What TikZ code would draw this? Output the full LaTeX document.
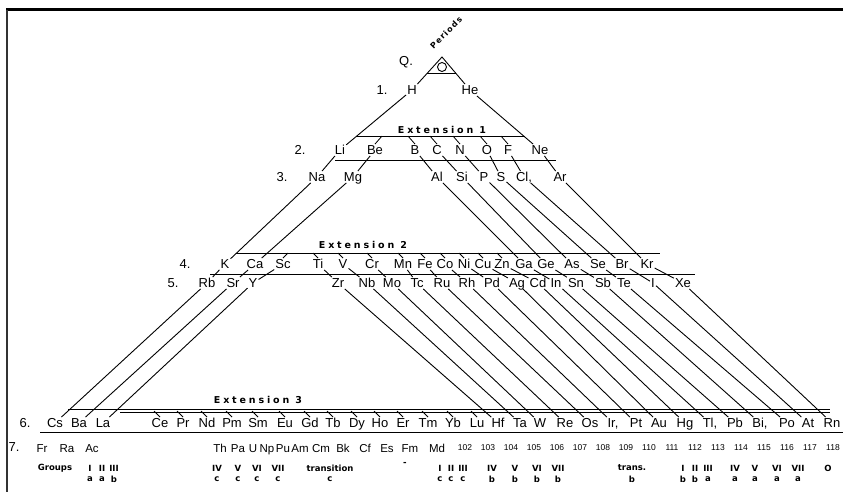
\documentclass[tikz,border=0pt]{standalone}
\usepackage{fontspec}
\setmainfont{Liberation Sans}
\newfontfamily\labfont{DejaVu Sans}
\usetikzlibrary{calc}
\newcommand{\elfont}{\fontsize{13}{13}\selectfont}
\newcommand{\extfont}{\labfont\fontsize{9.5}{9.5}\selectfont\bfseries\addfontfeature{LetterSpace=30}}
\newcommand{\grpfont}{\labfont\fontsize{8.5}{8.5}\selectfont\bfseries}
\tikzset{
  el/.style={inner sep=1pt, text height=9.5pt, text depth=0pt, font=\elfont},
  num/.style={inner sep=0pt, font=\fontsize{8.5}{8.5}\selectfont},
  ext/.style={inner sep=0pt, font=\extfont},
  grp/.style={inner sep=0pt, font=\grpfont},
  band/.style={line width=0.8pt},
  link/.style={line width=0.9pt}
}

\begin{document}
\begin{tikzpicture}[x=1pt,y=-1pt]
		%%%%% START %%%%%
		\useasboundingbox (0,0) rectangle (843,492);
		
		\draw[line width=3pt] (6,10) -- (843,10);
		\draw[line width=2pt, black!80] (7,10) -- (7,492);
		
		% apex
		\node[inner sep=0pt, font=\fontsize{13}{13}\selectfont] (q) at (406,62) {Q.};
		\node[inner sep=0pt, rotate=45, font=\labfont\fontsize{8}{8}\selectfont\bfseries\addfontfeature{LetterSpace=15}] (per) at (446,33) {Periods};
		\coordinate (apex) at (442,57);
		
		% period labels
		\node[el] (p1) at (382,90) {1.};
		\node[el] (p2) at (300,150) {2.};
		\node[el] (p3) at (282,177) {3.};
		\node[el] (p4) at (185,264) {4.};
		\node[el] (p5) at (173,283) {5.};
		\node[el] (p6) at (25,423) {6.};
		\node[el] (p7) at (14,447) {7.};
		
		% rows
		\node[el] (H) at (412,90) {H};
		\node[el] (He) at (470,90) {He};
		
		\foreach \n/\x in {Li/340,Be/375,B/415,C/437,N/460,O/487,F/508,Ne/540}
			\node[el] (\n) at (\x,150) {\n};
		\foreach \n/\x in {Na/317,Mg/353,Al/437,Si/462,P/484,S/501,Ar/560}
			\node[el] (\n) at (\x,177) {\n};
		\node[el] (Cl) at (524,177) {Cl,};
		
		\foreach \n/\x in {K/225,Ca/255,Sc/283,Ti/318,V/343,Cr/372,Mn/403,Fe/425,Co/445,Ni/464,Cu/483,Zn/502,Ga/524,Ge/546,As/572,Se/598,Br/622,Kr/647}
			\node[el] (\n) at (\x,264) {\n};
		\foreach \n/\x in {Rb/207,Sr/233,Y/253,Zr/338,Nb/367,Mo/392,Tc/417,Ru/442,Rh/467,Pd/492,Ag/517,Cd/538,In/556,Sn/576,Sb/603,Te/624,I/653,Xe/683}
			\node[el] (\n) at (\x,283) {\n};
		
		\foreach \n/\x in {Cs/55,Ba/79,La/103,Ce/160,Pr/183,Nd/207,Pm/232,Sm/258,Eu/285,Gd/310,Tb/333,Dy/357,Ho/380,Er/403,Tm/428,Yb/453,Lu/477,Hf/498,Ta/520,W/540,Re/565,Os/590,Pt/636,Au/659,Hg/685,Pb/735,Po/787,At/808,Rn/832}
			\node[el] (\n) at (\x,423) {\n};
		\node[el] (Ir) at (613,423) {Ir,};
		\node[el] (Tl) at (710,423) {Tl,};
		\node[el] (Bi) at (760,423) {Bi,};
		
		\foreach \n/\x in {Fr/42,Ra/67,Ac/92,Th/220,Pa/238,U/253,Np/267,Pu/283,Am/300,Cm/321,Bk/343,Cf/365,Es/387,Fm/410,Md/437}
			\node[el, font=\fontsize{11.5}{11.5}\selectfont] (\n) at (\x,448) {\n};
		\foreach \k in {102,...,118}
			\node[num] (z\k) at ({465+(\k-102)*23},448) {\k};
		
		% extensions
		\node[ext] (ext1) at (442,130) {Extension 1};
		\node[ext] (ext2) at (363,245) {Extension 2};
		\node[ext] (ext3) at (258,400) {Extension 3};
		
		\draw[band] (356,136) -- (525,136);
		\draw[band] (335,160) -- (556,160);
		\draw[band] (236,253) -- (660,253);
		\draw[band] (210,274) -- (695,274);
		\draw[band] (68,409) -- (830,409);
		\draw[band] (120,412) -- (830,412);
		\draw[band] (40,432) -- (843,432);
		
		% ticks
		\draw[band] (Be.north) -- ++(7,-8);
		\foreach \n in {B,C,N,O,F}
			\draw[band] (\n.north) -- ++(-7,-8);
		\draw[band] (Sc.north) -- ++(5,-5);
		\foreach \n in {Ti,V,Cr,Mn,Fe,Co,Ni,Cu,Zn}
			\draw[band] (\n.north) -- ++(-5,-5);
		\foreach \n in {Ce,Pr,Nd,Pm,Sm,Eu,Gd,Tb,Dy,Ho,Er,Tm,Yb,Lu}
			\draw[band] (\n.north) -- ++(-6,-6);
		
		% top
		\draw[link] (H) -- (apex) -- (He);
		\draw[link] ($(H)!0.5!(apex)$) -- ($(He)!0.5!(apex)$);
		\draw[link] (442,67) circle (4.5);
		
		% links
		\foreach \a/\b in {H/Li,Li/Na,Na/K,K/Rb,Rb/Cs,Be/Mg,Mg/Ca,Ca/Sr,Sr/Ba,Sc/Y,Y/La,
				He/Ne,Ne/Ar,Ar/Kr,Kr/Xe,Xe/Rn,B/Al,Al/Ga,Ga/In,In/Tl,C/Si,Si/Ge,Ge/Sn,Sn/Pb,
				N/P,P/As,As/Sb,Sb/Bi,O/S,S/Se,Se/Te,Te/Po,F/Cl,Cl/Br,Br/I,I/At,
				Ti/Zr,Zr/Hf,V/Nb,Nb/Ta,Cr/Mo,Mo/W,Mn/Tc,Tc/Re,Fe/Ru,Ru/Os,Co/Rh,Rh/Ir,
				Ni/Pd,Pd/Pt,Cu/Ag,Ag/Au,Zn/Cd,Cd/Hg}
			\draw[link] (\a) -- (\b);
		
		% groups
		\node[grp] (grp) at (55,468) {Groups};
		\foreach \t/\x/\s in {I/90/a,II/102/a,III/114/b,IV/217/c,V/238/c,VI/257/c,VII/278/c,
				I/440/c,II/451/c,III/463/c,IV/492/b,V/515/b,VI/537/b,VII/558/b,
				I/683/b,II/695/b,III/708/a,IV/735/a,V/755/a,VI/777/a,VII/798/a}
			\node[grp] at (\x,468) {\t} node[grp] at (\x,479) {\s};
		\node[grp] (tr1) at (330,468) {transition};
		\node[grp] (tr1s) at (330,479) {c};
		\node[grp] (dash) at (405,464) {-};
		\node[grp] (tr2) at (632,468) {trans.};
		\node[grp] (tr2s) at (632,479) {b};
		\node[grp] (g0) at (828,468) {O};
		
		%%%%% END %%%%%
\end{tikzpicture}
\end{document}
